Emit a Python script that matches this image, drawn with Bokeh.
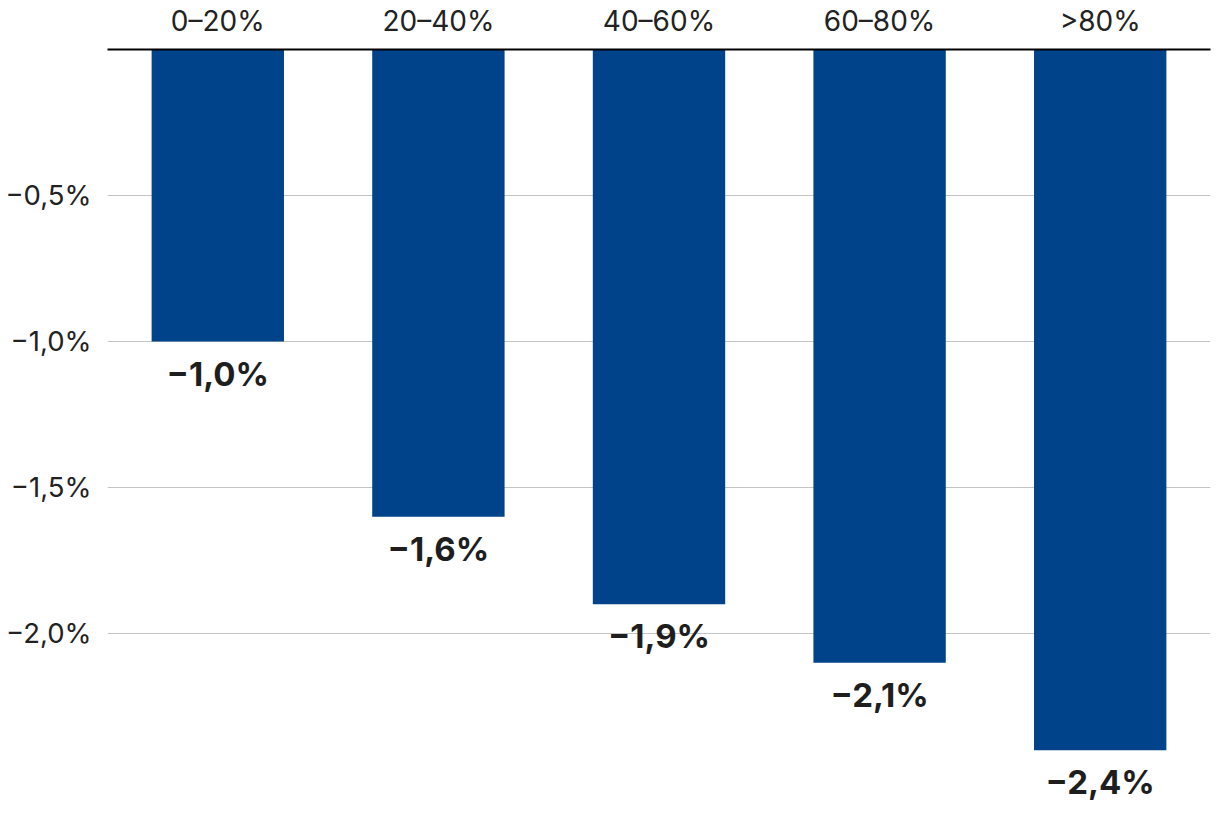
from bokeh.plotting import figure
from bokeh.models import ColumnDataSource, FixedTicker, FactorRange
from bokeh.core.properties import value
from bokeh.embed import file_html
from bokeh.resources import INLINE

categories = ["0–20%", "20–40%", "40–60%", "60–80%", ">80%"]
values = [-1.0, -1.6, -1.9, -2.1, -2.4]
y_ticks = [-2.0, -1.5, -1.0, -0.5]
y_tick_labels = ["−2,0%", "−1,5%", "−1,0%", "−0,5%"]

def fmt(v):
    s = f"{abs(v):.1f}".replace(".", ",")
    return ("−" if v < 0 else "") + s + "%"

FONT = "Inter"
label_offset = 0.11
src = ColumnDataSource(dict(
    cat=categories,
    val=values,
    ly=[v - label_offset for v in values],
    txt=[fmt(v) for v in values],
))

p = figure(
    width=1220, height=814,
    x_range=FactorRange(*categories), y_range=(-2.62, 0),
    x_axis_location="above",
    output_backend="svg", toolbar_location=None,
    min_border_left=107, min_border_right=10, min_border_top=48, min_border_bottom=0,
)
p.outline_line_color = None
p.background_fill_color = "white"
p.border_fill_color = "white"

p.vbar(x="cat", top=0, bottom="val", width=0.6, source=src,
       fill_color="#00438A", line_color=None)

p.text(x="cat", y="ly", text="txt", source=src,
       text_align="center", text_baseline="middle",
       text_font=value(FONT), text_font_style="bold",
       text_font_size="33px", text_color="#1e1e1e")

# grid
p.xgrid.grid_line_color = None
p.ygrid.grid_line_color = "#c4c4c4"
p.ygrid.grid_line_width = 1.2
p.yaxis.ticker = FixedTicker(ticks=y_ticks)
p.yaxis.major_label_overrides = {t: l for t, l in zip(y_ticks, y_tick_labels)}
p.yaxis.axis_line_color = None
p.yaxis.major_tick_line_color = None
p.yaxis.minor_tick_line_color = None
p.yaxis.major_label_text_font = FONT
p.yaxis.major_label_text_font_size = "27.5px"
p.yaxis.major_label_text_color = "#222222"
p.yaxis.major_label_standoff = 10

p.xaxis.axis_line_color = "black"
p.xaxis.axis_line_width = 2
p.xaxis.major_tick_line_color = None
p.xaxis.minor_tick_line_color = None
p.xaxis.major_label_text_font = FONT
p.xaxis.major_label_text_font_size = "28px"
p.xaxis.major_label_text_color = "#222222"
p.xaxis.major_label_standoff = 6

open("out.html", "w").write(file_html(p, INLINE))
